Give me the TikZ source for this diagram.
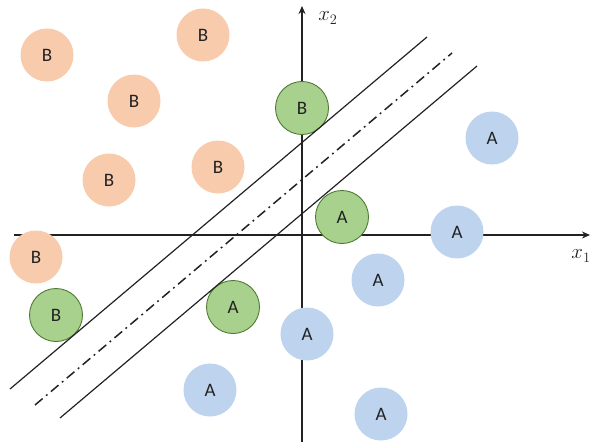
\documentclass[tikz,border=0pt]{standalone}
\usepackage{fontspec}
\setmainfont{Carlito}
\usetikzlibrary{arrows.meta}
\definecolor{borange}{HTML}{F8CBAD}
\definecolor{ablue}{HTML}{BDD3EE}
\definecolor{sgreen}{HTML}{A9D18E}
\definecolor{sgreenline}{HTML}{4E7A33}
\definecolor{ink}{HTML}{222222}
\begin{document}
\begin{tikzpicture}[x=1pt,y=-1pt,
  pt/.style={circle,minimum size=53pt,inner sep=0pt,text=ink,font=\fontsize{19}{19}\selectfont},
  bpt/.style={pt,fill=borange},
  apt/.style={pt,fill=ablue},
  gpt/.style={pt,fill=sgreen,draw=sgreenline,line width=0.9pt},
  axis/.style={line width=1.3pt,draw=ink,-{Stealth[length=8pt,width=7pt]}},
  margin/.style={line width=1.2pt,draw=ink},
  hyper/.style={line width=1.5pt,draw=ink,dash pattern=on 10pt off 4.5pt on 1.8pt off 4.5pt},
  lbl/.style={text=ink,font=\fontsize{22}{22}\selectfont}]
\useasboundingbox (0,0) rectangle (594,444);
% axes
\coordinate (xs) at (14,235);
\coordinate (xe) at (590,235);
\coordinate (ys) at (302,442);
\coordinate (ye) at (302,6);
\draw[axis] (xs) -- (xe);
\draw[axis] (ys) -- (ye);
\node[lbl] (x1) at (581,256) {$x_1$};
\node[lbl] (x2) at (328,18) {$x_2$};
% orange B
\node[bpt] (b1) at (47,55) {B};
\node[bpt] (b2) at (203,35) {B};
\node[bpt] (b3) at (134,101) {B};
\node[bpt] (b4) at (109,180) {B};
\node[bpt] (b5) at (218,167) {B};
\node[bpt] (b6) at (36,257) {B};
% blue A
\node[apt] (a1) at (492,138) {A};
\node[apt] (a2) at (457,232) {A};
\node[apt] (a3) at (378,280) {A};
\node[apt] (a4) at (307,334) {A};
\node[apt] (a5) at (210,390) {A};
\node[apt] (a6) at (381,414) {A};
% support vectors
\node[gpt] (g1) at (302,108) {B};
\node[gpt] (g2) at (342,217) {A};
\node[gpt] (g3) at (56,315) {B};
\node[gpt] (g4) at (233,307) {A};
% margins and hyperplane
\coordinate (u1) at (10,389);
\coordinate (u2) at (427,37);
\coordinate (m1) at (35,405);
\coordinate (m2) at (452,53);
\coordinate (l1) at (60,418);
\coordinate (l2) at (477,66);
\draw[margin] (u1) -- (u2);
\draw[hyper] (m1) -- (m2);
\draw[margin] (l1) -- (l2);
\end{tikzpicture}
\end{document}
